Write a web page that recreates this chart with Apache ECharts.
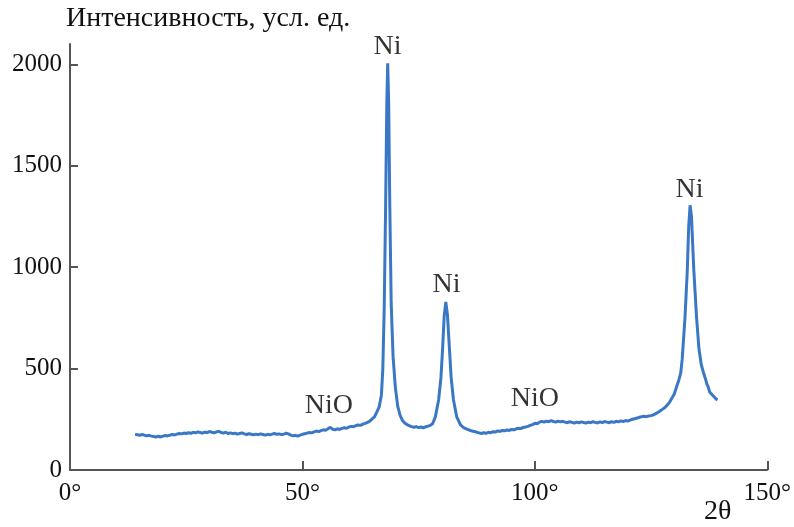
<!DOCTYPE html>
<html>
<head>
<meta charset="utf-8">
<script src="https://cdn.jsdelivr.net/npm/echarts@6/dist/echarts.min.js"></script>
<style>
  html, body { margin: 0; padding: 0; background: #fff; }
  #main { width: 794px; height: 527px; }
</style>
</head>
<body>
<div id="main"></div>
<script>
// diffraction pattern, [2theta, intensity]
var lowAngle = [
  [14,176],[14.5,174],[15,171],[15.5,175],[16,172],[16.5,168],[17,171],[17.5,167],[18,165],[18.5,163],
  [19,166],[19.5,163],[20,167],[20.5,170],[21,168],[21.5,172],[22,175],[22.5,173],[23,177],[23.5,180],
  [24,178],[24.5,182],[25,180],[25.5,184],[26,181],[26.5,186],[27,183],[27.5,188],[28,185],[28.5,182],
  [29,187],[29.5,184],[30,190],[30.5,186],[31,183],[31.5,188],[32,191],[32.5,185],[33,182],[33.5,186],
  [34,180],[34.5,183],[35,179],[35.5,182],[36,177],[36.5,180],[37,183],[37.5,178],[38,175],[38.5,179],
  [39,176],[39.5,173],[40,177],[40.5,174],[41,178],[41.5,175],[42,172],[42.5,176],[43,173],[43.5,177],
  [44,180],[44.5,176],[45,178],[45.5,174],[46,177],[46.5,181],[47,178],[47.5,172],[48,168],[48.5,171],
  [49,167],[49.5,172],[50,176],[50.5,179],[51,182],[51.5,185],[52,183],[52.5,188],[53,192],[53.5,189],
  [54,194],[54.5,198],[55,196],[55.5,203],[56,210],[56.5,201],[57,198],[57.5,203],[58,200],[58.5,205],
  [59,208],[59.5,206],[60,212],[60.5,215],[61,213],[61.5,219],[62,222],[62.5,220],[63,226],[63.5,230],
  [64,235],[64.5,241],[65,252],[65.5,262]
];
var peakOne = [
  [66,285],[66.5,310],[67,370],[67.3,500],[67.6,800],[67.9,1300],[68.15,1800],[68.35,2005],[68.55,1820],
  [68.8,1300],[69.1,820],[69.5,560],[70,405],[70.5,315],[71,270],[71.5,245],[72,232],[72.5,224],[73,218],
  [73.5,214],[74,211],[74.5,214],[75,209],[75.5,212],[76,208],[76.5,213],[77,216],[77.5,220],[78,228],[78.6,262]
];
var peakTwo = [
  [79.3,345],[79.8,455],[80.15,595],[80.5,760],[80.85,829],[81.2,765],[81.65,590],[82,455],[82.5,345],
  [83.2,262],[84,222],[84.5,212],[85,205],[85.5,200],[86,196],[86.5,192],[87,190],[87.5,186],[88,183],
  [88.5,180],[89,184],[89.5,181],[90,186],[90.5,184],[91,189],[91.5,187],[92,193],[92.5,190],[93,195],
  [93.5,193],[94,197],[94.5,195],[95,200],[95.5,198],[96,203],[96.5,206],[97,204],[97.5,210],[98,212],
  [98.5,215],[99,220],[99.5,224],[100,230],[100.5,228],[101,236],[101.5,240],[102,236],[102.5,241],
  [103,238],[103.5,243],[104,239],[104.5,236],[105,241],[105.5,237],[106,240],[106.5,236],[107,233],
  [107.5,238],[108,235],[108.5,231],[109,236],[109.5,233],[110,237],[110.5,234],[111,231],[111.5,236],
  [112,233],[112.5,238],[113,235],[113.5,232],[114,237],[114.5,234],[115,239],[115.5,236],[116,233],
  [116.5,238],[117,235],[117.5,240],[118,237],[118.5,242],[119,239],[119.5,244],[120,241],[120.5,246],
  [121,250],[121.5,253],[122,256],[122.5,260],[123,263],[123.5,265],[124,263],[124.5,266],[125,268],
  [125.5,272],[126,278],[126.5,284],[127,292],[127.5,300],[128,308],[128.5,320],[129,335],[129.5,355]
];
var peakThree = [
  [130,375],[130.5,410],[131,445],[131.4,480],[131.7,545],[132.3,750],[132.8,985],[133.1,1200],[133.4,1305],
  [133.7,1250],[134.2,985],[134.8,750],[135.3,600],[135.8,520],[136.3,478],[136.7,450],[137,425],[137.3,410],
  [137.6,385],[137.9,390],[138.2,370],[138.6,362],[139,350],[139.3,345]
];

var phaseNames = ['Ni', 'Ni', 'Ni', 'NiO', 'NiO'];
var phaseX = [68.3, 81.0, 133.3, 55.7, 100.0];
var phaseY = [2085, 915, 1380, 318, 352];

var xTicks = [0, 50, 100, 150];
var yTicks = [0, 500, 1000, 1500, 2000];

var pattern = lowAngle.concat(peakOne, peakTwo, peakThree);
var labelData = phaseNames.map(function (n, i) {
  return { name: n, value: [phaseX[i], phaseY[i]] };
});

var serif = 'Liberation Serif';
var axisGray = '#555555';

var chart = echarts.init(document.getElementById('main'));
chart.setOption({
  animation: false,
  backgroundColor: '#ffffff',
  grid: { left: 70, right: 24, top: 44, bottom: 57 },
  xAxis: {
    type: 'value',
    min: 0,
    max: 150,
    interval: 50,
    splitLine: { show: false },
    axisLine: { lineStyle: { color: axisGray, width: 2 } },
    axisTick: { inside: true, length: 9, lineStyle: { color: axisGray, width: 2 } },
    axisLabel: {
      formatter: '{value}°',
      color: '#111',
      fontFamily: serif,
      fontSize: 25,
      margin: 11,
      customValues: xTicks
    }
  },
  yAxis: {
    type: 'value',
    min: 0,
    max: 2100,
    interval: 500,
    splitLine: { show: false },
    axisLine: { show: true, lineStyle: { color: axisGray, width: 2 } },
    axisTick: { show: true, inside: true, length: 8, lineStyle: { color: axisGray, width: 2 }, customValues: yTicks },
    axisLabel: {
      formatter: function (v) { return String(v); },
      color: '#111',
      fontFamily: serif,
      fontSize: 25,
      margin: 8,
      customValues: yTicks
    }
  },
  series: [
    {
      type: 'line',
      data: pattern,
      showSymbol: false,
      smooth: false,
      lineStyle: { color: '#3a78c6', width: 3 }
    },
    {
      type: 'scatter',
      data: labelData,
      symbolSize: 0,
      label: {
        show: true,
        position: 'inside',
        formatter: '{b}',
        color: '#000',
        fontFamily: serif,
        fontSize: 28
      }
    }
  ],
  graphic: [
    {
      type: 'text',
      left: 66,
      top: 5,
      style: { text: 'Интенсивность, усл. ед.', font: '28px "Liberation Serif"', fill: '#111' }
    },
    {
      type: 'text',
      left: 704,
      top: 498,
      style: { text: '2θ', font: '28px "Liberation Serif"', fill: '#111' }
    }
  ]
});
</script>
</body>
</html>
